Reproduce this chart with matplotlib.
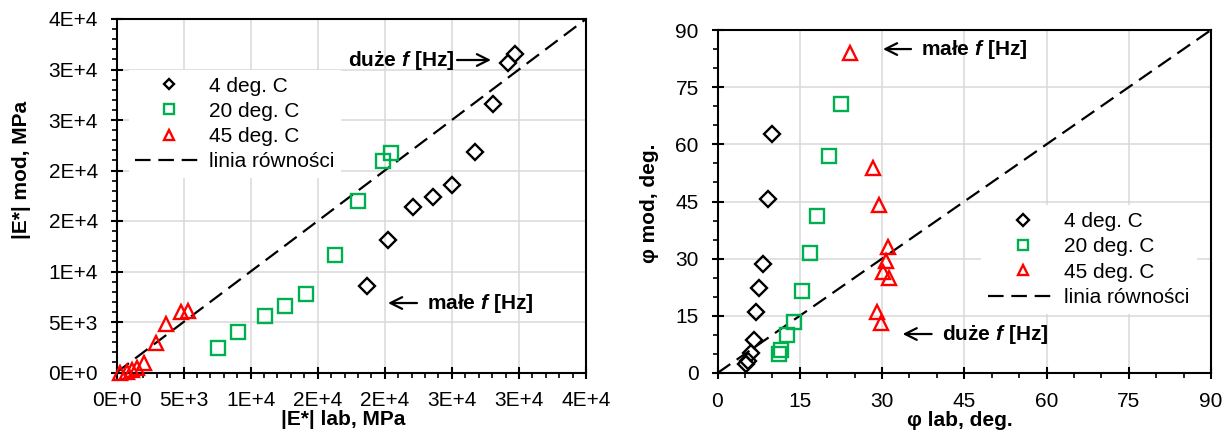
import numpy as np
import matplotlib
matplotlib.use("Agg")
import matplotlib.pyplot as plt
from matplotlib.ticker import MultipleLocator

# --- dane: moduł |E*| (MPa), lab vs mod ---
e_lab_4 = [29720, 29180, 28070, 26710, 25030, 23560, 22140, 20210, 18650]
e_mod_4 = [31500, 30600, 26550, 21790, 18550, 17400, 16380, 13070, 8580]
e_lab_20 = [20490, 19870, 17970, 16290, 14140, 12550, 11070, 9080, 7530]
e_mod_20 = [21760, 20970, 16940, 11660, 7760, 6540, 5580, 4000, 2440]
e_lab_45 = [5316, 4820, 3727, 2932, 2087, 1541, 1168, 746, 298]
e_mod_45 = [6106, 5941, 4785, 2970, 990, 429, 231, 99, 0]

# --- dane: kąt fazowy (deg.), lab vs mod ---
phi_lab_4 = [9.89, 9.22, 8.31, 7.52, 6.97, 6.66, 6.06, 5.63, 5.14]
phi_mod_4 = [62.6, 45.6, 28.7, 22.3, 16.0, 8.66, 5.16, 3.15, 2.27]
phi_lab_20 = [22.55, 20.36, 18.17, 16.83, 15.43, 13.97, 12.63, 11.65, 11.23]
phi_mod_20 = [70.5, 57.0, 41.2, 31.4, 21.5, 13.4, 9.9, 5.95, 4.9]
phi_lab_45 = [24.16, 28.4, 29.5, 31.15, 30.8, 30.2, 31.3, 29.0, 29.9]
phi_mod_45 = [83.9, 53.9, 44.1, 33.0, 29.5, 26.5, 24.9, 15.9, 13.2]

E_MAX = 35000
E_TICKS = [0, 5000, 10000, 15000, 20000, 25000, 30000, 35000]
E_TICK_LABELS = ["0E+0", "5E+3", "1E+4", "2E+4", "2E+4", "3E+4", "3E+4", "4E+4"]
PHI_MAX = 90
PHI_TICKS = [0, 15, 30, 45, 60, 75, 90]

GREEN = "#00B050"
RED = "#FF0000"
GRID = "#D9D9D9"

plt.rcParams.update({
    "font.family": "Liberation Sans",
    "font.size": 15,
    "mathtext.fontset": "custom",
    "mathtext.it": "Liberation Sans:italic:bold",
    "mathtext.rm": "Liberation Sans:bold",
})

fig = plt.figure(figsize=(12.26, 4.34), dpi=100)
ax1 = fig.add_axes([116.5 / 1226, (434 - 372.5) / 434, 469.5 / 1226, 353.5 / 434])
ax2 = fig.add_axes([717.5 / 1226, (434 - 373) / 434, 493.5 / 1226, 343 / 434])

series_style = dict(linestyle="none", mfc="none", mew=1.7, clip_on=False, zorder=3)


def style_axes(ax, minor):
    ax.grid(True, which="major", color=GRID, linewidth=1.1)
    ax.set_axisbelow(True)
    for sp in ax.spines.values():
        sp.set_linewidth(1.5)
    ax.xaxis.set_minor_locator(MultipleLocator(minor))
    ax.yaxis.set_minor_locator(MultipleLocator(minor))
    ax.tick_params(which="major", direction="inout", length=9, width=1.5, pad=9)
    ax.tick_params(which="minor", direction="out", length=3.5, width=1.2)
    ax.tick_params(top=False, right=False, which="both")


legend_style = dict(loc="upper left", borderaxespad=0, frameon=True, fancybox=False,
                    edgecolor="none", facecolor="white", framealpha=1,
                    handletextpad=0.35, labelspacing=0.3)

# --- wykres 1: |E*| ---
ax1.plot([0, E_MAX], [0, E_MAX], color="black", lw=1.6, dashes=(7, 3.5),
         label="linia równości", zorder=2)
ax1.plot(e_lab_4, e_mod_4, marker="D", ms=8.5, mec="black", label="4 deg. C", **series_style)
ax1.plot(e_lab_20, e_mod_20, marker="s", ms=10.5, mec=GREEN, label="20 deg. C", **series_style)
ax1.plot(e_lab_45, e_mod_45, marker="^", ms=10, mec=RED, label="45 deg. C", **series_style)
ax1.set_xlim(0, E_MAX)
ax1.set_ylim(0, E_MAX)
ax1.set_xticks(E_TICKS)
ax1.set_xticklabels(E_TICK_LABELS)
ax1.set_yticks(E_TICKS)
ax1.set_yticklabels(E_TICK_LABELS)
style_axes(ax1, 1000)
ax1.set_xlabel("|E*| lab, MPa", fontweight="bold")
ax1.set_ylabel("|E*| mod, MPa", fontweight="bold")
ax1.xaxis.set_label_coords(0.482, -0.105)
ax1.yaxis.set_label_coords(-0.182, 0.573)

h, l = ax1.get_legend_handles_labels()
order = [1, 2, 3, 0]
ax1.legend([h[i] for i in order], [l[i] for i in order],
           bbox_to_anchor=(0.0266, 0.855), handlelength=3.2, borderpad=0.3,
           markerscale=0.65, **legend_style)

arrow = dict(arrowstyle="->", color="black", lw=1.6, shrinkA=0, shrinkB=0,
             mutation_scale=21)
ax1.annotate("", xy=(27920, 30940), xytext=(25385, 30940), arrowprops=arrow)
ax1.text(25200, 30940, "duże $f$ [Hz]", fontweight="bold", ha="right", va="center")
ax1.annotate("", xy=(20240, 6880), xytext=(22400, 6880), arrowprops=arrow)
ax1.text(23150, 6880, "małe $f$ [Hz]", fontweight="bold", ha="left", va="center")

# --- wykres 2: kąt fazowy ---
ax2.plot([0, PHI_MAX], [0, PHI_MAX], color="black", lw=1.6, dashes=(7, 3.5),
         label="linia równości", zorder=2)
ax2.plot(phi_lab_4, phi_mod_4, marker="D", ms=8.5, mec="black", label="4 deg. C", **series_style)
ax2.plot(phi_lab_20, phi_mod_20, marker="s", ms=10.5, mec=GREEN, label="20 deg. C", **series_style)
ax2.plot(phi_lab_45, phi_mod_45, marker="^", ms=10, mec=RED, label="45 deg. C", **series_style)
ax2.set_xlim(0, PHI_MAX)
ax2.set_ylim(0, PHI_MAX)
ax2.set_xticks(PHI_TICKS)
ax2.set_yticks(PHI_TICKS)
style_axes(ax2, 5)
ax2.set_xlabel("φ lab, deg.", fontweight="bold")
ax2.set_ylabel("φ mod, deg.", fontweight="bold")
ax2.xaxis.set_label_coords(0.49, -0.11)
ax2.yaxis.set_label_coords(-0.1185, 0.496)

h, l = ax2.get_legend_handles_labels()
ax2.legend([h[i] for i in order], [l[i] for i in order],
           bbox_to_anchor=(0.534, 0.49), handlelength=3.3, borderpad=0.35,
           markerscale=0.7, **legend_style)

ax2.annotate("", xy=(30.18, 85.0), xytext=(35.29, 85.0), arrowprops=arrow)
ax2.text(37.11, 85.0, "małe $f$ [Hz]", fontweight="bold", ha="left", va="center")
ax2.annotate("", xy=(33.76, 10.23), xytext=(39.05, 10.23), arrowprops=arrow)
ax2.text(40.95, 10.23, "duże $f$ [Hz]", fontweight="bold", ha="left", va="center")

fig.savefig("out.png", dpi=100, facecolor="white")
